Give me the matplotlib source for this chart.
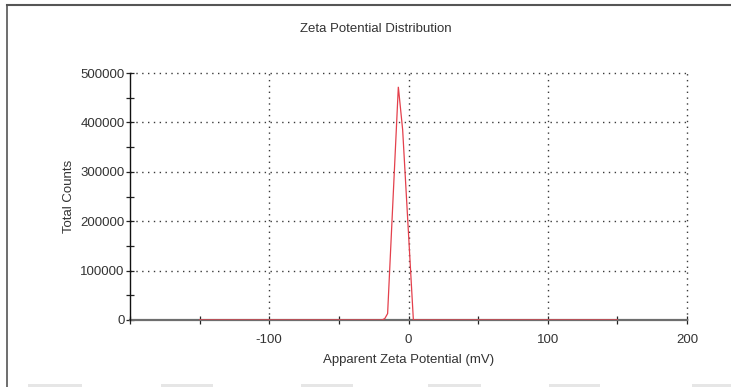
import matplotlib
matplotlib.use("Agg")
import matplotlib.pyplot as plt
from matplotlib.lines import Line2D
from matplotlib.patches import Rectangle
from matplotlib.ticker import MultipleLocator

plt.rcParams['font.family'] = ['Liberation Sans', 'DejaVu Sans']

# Zeta potential distribution (mV vs total counts)
zeta_mv = [-150, -19, -17, -15, -7.3, -4.2, 3.5, 150]
total_counts = [0, 0, 3000, 13000, 472000, 385000, 0, 0]

x_ticks = [-100, 0, 100, 200]
y_ticks = [0, 100000, 200000, 300000, 400000, 500000]

title = "Zeta Potential Distribution"
x_label = "Apparent Zeta Potential (mV)"
y_label = "Total Counts"

W, H = 731, 387
fig = plt.figure(figsize=(W / 100, H / 100), dpi=100)
fig.patch.set_facecolor('white')

ax = fig.add_axes([130 / W, 1 - 320 / H, (687 - 130) / W, (320 - 73) / H])
ax.set_xlim(-200, 200)
ax.set_ylim(0, 500000)

# dotted grid
grid_kw = dict(color='#3a3a3a', lw=1.0, linestyle=(0, (1, 3.2)), zorder=1,
               clip_on=False)
for xv in x_ticks:
    ax.axvline(xv, **grid_kw)
for yv in y_ticks[1:]:
    ax.axhline(yv, **grid_kw)

ax.plot(zeta_mv, total_counts, color='#e4404c', lw=0.9, zorder=3,
        solid_joinstyle='miter')

for s in ('top', 'right'):
    ax.spines[s].set_visible(False)
ax.spines['left'].set_color('#111111')
ax.spines['left'].set_linewidth(1.0)
ax.spines['bottom'].set_color('#6e6e6e')
ax.spines['bottom'].set_linewidth(1.6)
ax.spines['bottom'].set_zorder(2)

ax.set_xticks(x_ticks)
ax.set_xticklabels([str(v) for v in x_ticks])
ax.xaxis.set_minor_locator(MultipleLocator(50))
ax.set_yticks(y_ticks)
ax.set_yticklabels([str(v) for v in y_ticks])
ax.yaxis.set_minor_locator(MultipleLocator(50000))

ax.tick_params(axis='both', which='both', direction='inout', colors='#222222',
               labelcolor='#333333', labelsize=9.5, width=0.9)
ax.tick_params(axis='both', which='major', length=6)
ax.tick_params(axis='both', which='minor', length=6)
ax.tick_params(axis='y', which='major', pad=1)
ax.tick_params(axis='x', which='major', pad=7)

ax.set_xlabel(x_label, fontsize=9.5, color='#333333', labelpad=6)
ax.set_ylabel(y_label, fontsize=9.5, color='#333333', labelpad=4)

fig.text(376 / W, 1 - 29 / H, title, ha='center', va='center',
         fontsize=9.5, color='#333333')

# frame lines along the top and left of the panel
fig.add_artist(Line2D([7 / W, 1.0], [1 - 4.5 / H, 1 - 4.5 / H],
                      transform=fig.transFigure, color='#555555', lw=1.5))
fig.add_artist(Line2D([7 / W, 7 / W], [0.0, 1 - 4.5 / H],
                      transform=fig.transFigure, color='#555555', lw=1.2))

# faint strip segments along the bottom edge
for x0, x1 in [(28, 82), (161, 213), (301, 353), (428, 481), (549, 600), (692, 731)]:
    fig.add_artist(Rectangle((x0 / W, 0), (x1 - x0) / W, 3 / H,
                             transform=fig.transFigure, color='#e6e6e6', lw=0))

fig.savefig('out.png', dpi=100)
